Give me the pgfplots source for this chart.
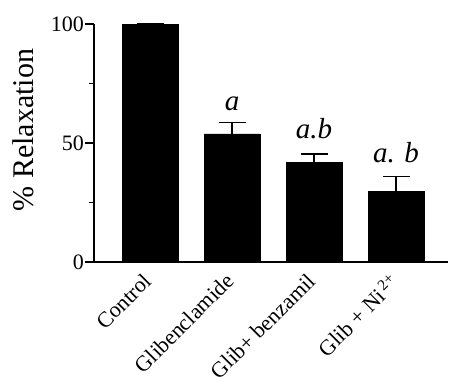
\documentclass[border=0pt]{standalone}
\usepackage{pgfplots}
\pgfplotsset{compat=1.18}
\usepackage{fontspec}
\setmainfont{Liberation Serif}
\begin{document}
\begin{tikzpicture}
\begin{axis}[
  scale only axis,
  width=354pt, height=238pt,
  xmin=-0.683, xmax=3.634,
  ymin=0, ymax=100,
  axis x line=bottom, axis y line=left,
  axis line style={-, line width=1.3pt},
  xtick={0,1,2,3},
  xticklabels={Control, Glibenclamide, Glib+ benzamil, {Glib + Ni\textsuperscript{\,2+}}},
  x tick style={draw=none},
  xticklabel style={rotate=45, anchor=north east, font=\fontsize{22}{24}\selectfont, inner sep=1pt, xshift=-5pt, yshift=6pt},
  ytick={0,50,100},
  minor ytick={25,75},
  tick align=outside,
  major tick length=9pt, minor tick length=5pt,
  y tick style={line width=1.3pt, black},
  yticklabel style={font=\fontsize{22}{24}\selectfont, inner sep=1pt},
  /pgf/number format/assume math mode=true,
  ylabel={\% Relaxation},
  ylabel style={font=\fontsize{30}{32}\selectfont, at={(rel axis cs:0,0.555)}, anchor=center, yshift=71pt},
  clip=false,
]
\coordinate (o) at (rel axis cs:0,0);
\addplot[ybar, bar width=56pt, fill=black, draw=black,
  error bars/.cd, y dir=plus, y explicit,
  error bar style={line width=1.3pt, black},
  error mark options={rotate=90, mark size=13.5pt, line width=1.3pt, black}]
  coordinates {
  (0,100) +- (0,0)
  (1,53.8) +- (0,4.9)
  (2,41.9) +- (0,3.5)
  (3,29.7) +- (0,6.1)
  };
\node[anchor=base, font=\fontsize{29}{30}\selectfont\itshape] at (axis cs:1,63.5) {a};
\node[anchor=base, font=\fontsize{29}{30}\selectfont\itshape] at (axis cs:2,52.1) {a.b};
\node[anchor=base, font=\fontsize{29}{30}\selectfont\itshape] at (axis cs:3,41.6) {a. b};
\end{axis}
\pgfresetboundingbox
\path[use as bounding box] ([shift={(-94pt,-114pt)}]o) rectangle ([shift={(355pt,262pt)}]o);
\end{tikzpicture}
\end{document}
